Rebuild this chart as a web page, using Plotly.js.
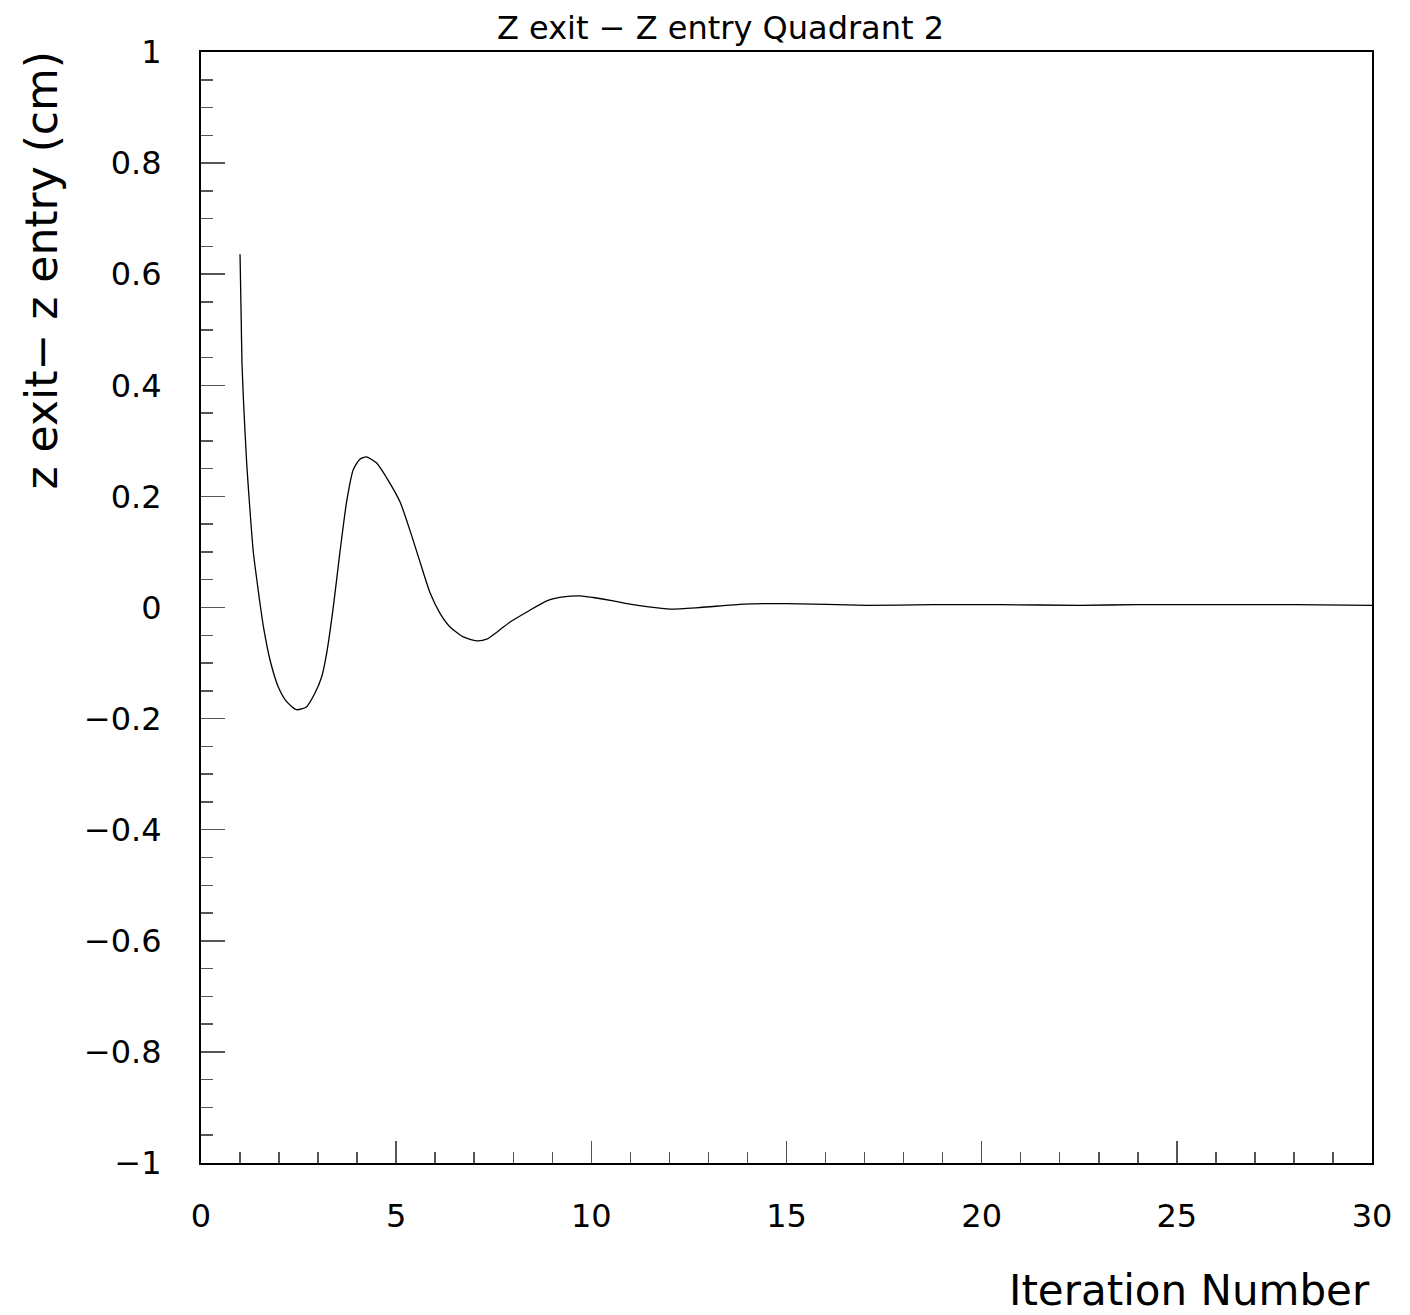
<!DOCTYPE html>
<html>
<head>
<meta charset="utf-8">
<script src="https://cdn.plot.ly/plotly-3.0.1.min.js"></script>
<style>html,body{margin:0;padding:0;background:#fff;}#chart{width:1410px;height:1315px;}</style>
</head>
<body>
<div id="chart"></div>
<script>
const iterations = [1.00, 1.03, 1.05, 1.09, 1.17, 1.26, 1.34, 1.43, 1.51, 1.60, 1.77, 1.98, 2.20, 2.45, 2.70, 2.92, 3.09, 3.22, 3.39, 3.56, 3.73, 3.90, 4.07, 4.24, 4.50, 4.76, 5.10, 5.44, 5.70, 5.87, 6.12, 6.38, 6.72, 7.06, 7.32, 7.66, 7.92, 8.35, 8.86, 9.28, 9.71, 10.05, 10.56, 10.99, 11.42, 12.02, 12.79, 13.90, 15.00, 17.06, 18.75, 20.47, 22.5, 24.0, 26.0, 28.0, 30.0];
const dz = [0.636, 0.52, 0.44, 0.37, 0.26, 0.17, 0.10, 0.05, 0.008, -0.035, -0.095, -0.143, -0.17, -0.184, -0.179, -0.154, -0.125, -0.082, 0.001, 0.10, 0.19, 0.248, 0.267, 0.271, 0.26, 0.233, 0.19, 0.12, 0.062, 0.026, -0.01, -0.035, -0.053, -0.06, -0.057, -0.04, -0.026, -0.008, 0.012, 0.019, 0.021, 0.018, 0.012, 0.006, 0.0015, -0.003, 0.0, 0.006, 0.007, 0.004, 0.005, 0.005, 0.004, 0.005, 0.005, 0.005, 0.004];

const titleText = "Z exit \u2212 Z entry Quadrant 2";
const xTitle = "Iteration Number";
const yTitle = "z exit\u2212 z entry (cm)";

const fontFam = "'DejaVu Sans', sans-serif";

const trace = {
  x: iterations, y: dz, type: 'scatter', mode: 'lines',
  line: {color: '#000', width: 1.3, shape: 'spline', smoothing: 0.6},
  hoverinfo: 'skip'
};

const layout = {
  width: 1410, height: 1315,
  margin: {l: 201, r: 38, t: 52, b: 152},
  paper_bgcolor: '#fff', plot_bgcolor: '#fff',
  showlegend: false,
  title: {text: titleText, x: 0.511, xref: 'container', xanchor: 'center', y: 0.979, yref: 'container', yanchor: 'middle', font: {family: fontFam, size: 32, color: '#000'}},
  xaxis: {
    range: [0, 30], tickmode: 'linear', tick0: 0, dtick: 5,
    ticks: 'inside', ticklen: 22, tickwidth: 1.5, tickcolor: '#555',
    showline: true, linecolor: '#000', linewidth: 2, mirror: true,
    showgrid: false, zeroline: false,
    ticklabelstandoff: 24,
    tickfont: {family: fontFam, size: 32, color: '#000'},
    minor: {dtick: 1, ticks: 'inside', ticklen: 11, tickwidth: 1.5, tickcolor: '#555', showgrid: false}
  },
  yaxis: {
    range: [-1, 1], tickmode: 'linear', tick0: -1, dtick: 0.2,
    ticks: 'inside', ticklen: 24, tickwidth: 1.5, tickcolor: '#555',
    showline: true, linecolor: '#000', linewidth: 2, mirror: true,
    showgrid: false, zeroline: false,
    ticklabelstandoff: 31,
    tickfont: {family: fontFam, size: 32, color: '#000'},
    minor: {dtick: 0.05, ticks: 'inside', ticklen: 12, tickwidth: 1.5, tickcolor: '#555', showgrid: false}
  },
  annotations: [
    {text: xTitle, xref: 'paper', yref: 'paper', x: 1, y: 0, xanchor: 'right', yanchor: 'middle', yshift: -127, showarrow: false, font: {family: fontFam, size: 42, color: '#000'}},
    {text: yTitle, xref: 'paper', yref: 'paper', x: 0, y: 1, xanchor: 'center', yanchor: 'top', xshift: -160, yshift: 3, showarrow: false, textangle: -90, font: {family: fontFam, size: 44, color: '#000'}}
  ]
};

Plotly.newPlot('chart', [trace], layout, {displayModeBar: false, staticPlot: true});
</script>
</body>
</html>
